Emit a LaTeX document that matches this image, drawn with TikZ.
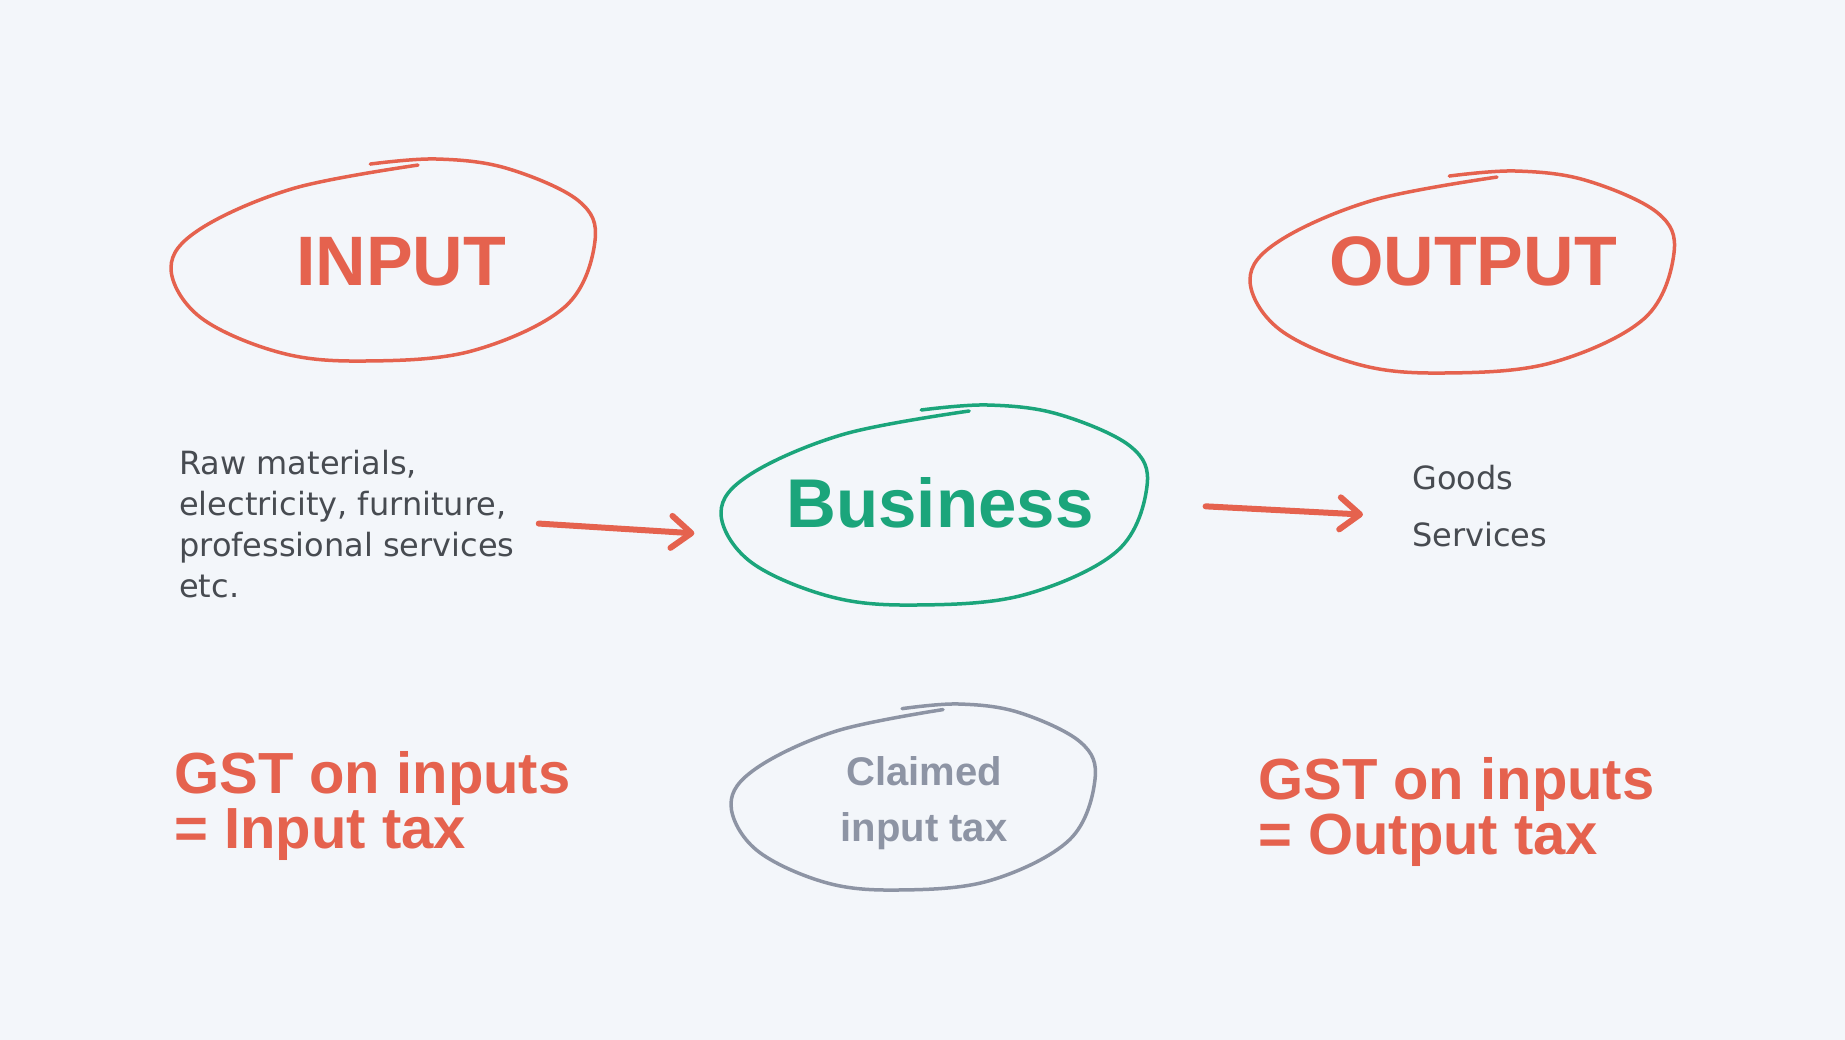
\documentclass[tikz,border=0pt]{standalone}
\usepackage{fontspec}
\setmainfont{DejaVu Sans}
\newfontfamily\headfont{Liberation Sans}
\usepackage{xcolor}
\usetikzlibrary{arrows.meta,positioning,calc}
\definecolor{coral}{HTML}{E5624E}
\definecolor{bizgreen}{HTML}{1BA57B}
\definecolor{slate}{HTML}{8D94A4}
\definecolor{ink}{HTML}{474B51}
\definecolor{paper}{HTML}{F3F6FA}
\newcommand{\handring}[5]{\draw[ringline=#1, shift={(#2,#3)}, xscale=#4, yscale=#5]
  plot[smooth, tension=0.6] coordinates {(0.165,-0.94) (-0.42,-0.71) (-0.86,-0.31) (-1.0,0.08) (-0.86,0.57) (-0.48,0.92) (-0.08,1.0) (0.42,0.90) (0.86,0.46) (1.0,-0.19) (0.92,-0.59) (0.58,-0.91) (0.25,-1.0) (-0.06,-0.95)};}

\begin{document}
\begin{tikzpicture}[
  x=1pt, y=-1pt,
  ringline/.style={draw=#1, line width=3.5pt, line cap=round, line join=round},
  head/.style={text=coral, font=\headfont\fontsize{70}{80}\selectfont\bfseries, inner sep=0, anchor=base},
  note/.style={text=ink, font=\fontsize{32}{#1}\selectfont, inner sep=0, anchor=base west, align=left},
  tax/.style={text=coral, font=\headfont\fontsize{58}{55}\selectfont\bfseries, inner sep=0, anchor=base west, align=left},
  arr/.style={draw=coral, line width=6pt, line cap=round, -{Straight Barb[length=20pt, width=32pt, round]}}]
\fill[paper] (0,0) rectangle (1845,1040);
\handring{coral}{383}{260}{212}{101}
\handring{coral}{1462}{272}{212}{101}
\handring{bizgreen}{934}{505}{213}{100}
\handring{slate}{913}{797}{182}{93}
\node[head] (inp) at (401,286) {INPUT};
\node[head] (outp) at (1473,286) {OUTPUT};
\node[head, text=bizgreen, font=\headfont\fontsize{69}{80}\selectfont\bfseries] (biz) at (940,527) {Business};
\node[note=41] (raw) at (179,597) {Raw materials,\\electricity, furniture,\\professional services\\etc.};
\node[note=57] (sold) at (1412,546) {Goods\\Services};
\node[tax] (intax) at (174,848) {GST on inputs\\= Input tax};
\node[tax] (outtax) at (1258,854) {GST on inputs\\= Output tax};
\node[text=slate, font=\headfont\fontsize{40}{56}\selectfont\bfseries, inner sep=0, anchor=base, align=center] (claim) at (924,841) {Claimed\\input tax};
\draw[arr] ([xshift=24pt]raw.east) -- ([xshift=-92pt, yshift=-31pt]biz.west);
\draw[arr] ([xshift=112pt, yshift=-4pt]biz.east) -- ([xshift=-49pt, yshift=-9pt]sold.west);
\end{tikzpicture}
\end{document}
